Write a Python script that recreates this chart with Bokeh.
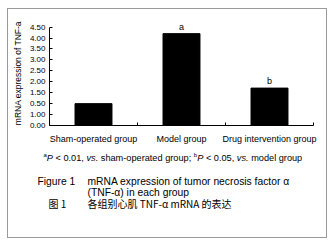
from bokeh.plotting import figure
from bokeh.layouts import column
from bokeh.models import (FactorRange, Range1d, LinearAxis, CategoricalAxis, FixedTicker,
                          Label, LabelSet, ColumnDataSource)
from bokeh.core.properties import value
from bokeh.embed import file_html
from bokeh.resources import INLINE

# ---- data ----
categories = ["Sham-operated group", "Model group", "Drug intervention group"]
values = [1.0, 4.2, 1.71]
sig_marks = ["", "a", "b"]
y_ticks = [0.0, 0.5, 1.0, 1.5, 2.0, 2.5, 3.0, 3.5, 4.0, 4.5]
y_tick_labels = ["0.00", "1.00", "0.50", "1.50", "2.00", "2.50", "3.00", "3.50", "4.00", "4.50"]
y_title = "mRNA expression of TNF-a"
footnote_parts = [("a", "sup"), ("P", "italic"), (" < 0.01, ", "normal"), ("vs.", "italic"),
                  (" sham-operated group; ", "normal"), ("b", "sup"), ("P", "italic"),
                  (" < 0.05, ", "normal"), ("vs.", "italic"), (" model group", "normal")]
caption_label_en = "Figure 1"
caption_en = ["mRNA expression of tumor necrosis factor α", "(TNF-α) in each group"]
caption_label_zh = "图 1"
caption_zh = "各组别心肌 TNF-α mRNA 的表达"

FONT = "Liberation Sans"
CJK = "Noto Sans CJK SC"

# Arial / Liberation Sans advance widths (per 1000 em)
W = {' ': 278, '<': 584, '0': 556, '1': 556, '5': 556, '.': 278, ',': 278, ';': 278, '-': 333,
     'a': 556, 'b': 556, 'c': 500, 'd': 556, 'e': 556, 'g': 556, 'h': 556, 'l': 222, 'm': 833,
     'o': 556, 'p': 556, 'r': 333, 's': 500, 't': 278, 'u': 556, 'v': 500, 'P': 667}

def text_width(s, size):
    return sum(W.get(c, 556) for c in s) * size / 1000.0

# ---------------- chart figure ----------------
p = figure(width=318, height=140, x_range=FactorRange(*categories), y_range=Range1d(0, 4.8),
           output_backend="svg", toolbar_location=None,
           x_axis_location=None, y_axis_location=None,
           min_border_left=41, min_border_right=13, min_border_top=11, min_border_bottom=24)
p.frame_align = False
p.outline_line_color = None
p.background_fill_color = "white"
p.border_fill_color = "white"
p.grid.visible = False

src = ColumnDataSource(dict(cat=categories, val=values, mark=sig_marks))
p.vbar(x="cat", top="val", width=0.42, source=src, fill_color="black", line_color="black")

p.add_layout(LabelSet(x="cat", y="val", text="mark", source=src, text_align="center",
                      text_baseline="bottom", y_offset=2, text_font=value(FONT),
                      text_font_size="9px", text_color="black"))

yax = LinearAxis(ticker=FixedTicker(ticks=y_ticks, minor_ticks=[]),
                 major_label_overrides=dict(zip(y_ticks, y_tick_labels)),
                 axis_label=y_title, bounds=(0, 4.5))
yax.major_tick_in = 3
yax.major_tick_out = 0
yax.minor_tick_line_color = None
yax.major_label_standoff = 4
yax.major_label_text_font = FONT
yax.major_label_text_font_size = "8px"
yax.major_label_text_color = "black"
yax.axis_label_text_font = FONT
yax.axis_label_text_font_size = "8.5px"
yax.axis_label_text_font_style = "normal"
yax.axis_label_text_color = "black"
yax.axis_label_standoff = 4
yax.axis_line_color = "black"
yax.major_tick_line_color = "black"
p.add_layout(yax, "left")

# x axis: edge ticks between categories (synthetic factor coordinates), then the labels
edge_ax = LinearAxis(ticker=FixedTicker(ticks=list(range(1, len(categories) + 1)), minor_ticks=[]))
edge_ax.major_tick_in = 3
edge_ax.major_tick_out = 0
edge_ax.minor_tick_line_color = None
edge_ax.major_label_text_font_size = "0px"
edge_ax.major_label_standoff = 0
edge_ax.major_label_text_alpha = 0
edge_ax.axis_line_color = "black"
p.add_layout(edge_ax, "below")

xax = CategoricalAxis()
xax.axis_line_color = None
xax.major_tick_line_color = None
xax.minor_tick_line_color = None
xax.major_label_standoff = 2
xax.major_label_text_font = FONT
xax.major_label_text_font_size = "9px"
xax.major_label_text_color = "black"
p.add_layout(xax, "below")

# ---------------- text figure (page coordinates) ----------------
t = figure(width=318, height=88, x_range=Range1d(8, 326), y_range=Range1d(237, 149),
           output_backend="svg", toolbar_location=None,
           x_axis_location=None, y_axis_location=None,
           min_border_left=0, min_border_right=0, min_border_top=0, min_border_bottom=0)
t.frame_align = False
t.outline_line_color = None
t.background_fill_color = "white"
t.border_fill_color = "white"
t.grid.visible = False

FN = 9.2
x = 43.0
fy = 157
for txt, style in footnote_parts:
    size = 6 if style == "sup" else FN
    body = txt.strip()
    lead = text_width(txt[:len(txt) - len(txt.lstrip())], size)
    t.add_layout(Label(x=x + lead, y=fy - 3 if style == "sup" else fy, text=body,
                       text_font=FONT, text_font_size=f"{size}px", text_baseline="middle",
                       text_font_style="italic" if style == "italic" else "normal",
                       text_color="black"))
    x += text_width(txt, size)

def lab(xx, yy, txt, font, size):
    t.add_layout(Label(x=xx, y=yy, text=txt, text_font=font, text_font_size=size,
                       text_baseline="middle", text_color="black"))

lab(37, 181, caption_label_en, FONT, "10.3px")
lab(87, 181, caption_en[0], FONT, "10.3px")
lab(87, 192, caption_en[1], FONT, "10.3px")
lab(48, 203, caption_label_zh, CJK, "10px")
lab(87, 203, caption_zh, CJK, "10px")

layout = column(p, t, spacing=0, margin=(9, 8, 11, 8),
                styles={"outline": "1px solid #9a9a9a"})

open("out.html", "w").write(file_html(layout, INLINE))
